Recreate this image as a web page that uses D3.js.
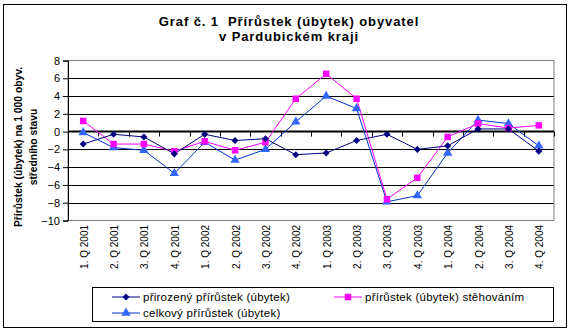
<!DOCTYPE html>
<html><head><meta charset="utf-8">
<script src="https://cdn.jsdelivr.net/npm/d3@7"></script>
<style>body{margin:0;background:#fff}svg{display:block}text{font-family:"Liberation Sans",Arial,sans-serif}</style>
</head><body><svg id="c" width="570" height="332"></svg>
<script>
const categories = ["1. Q 2001","2. Q 2001","3. Q 2001","4. Q 2001","1. Q 2002","2. Q 2002","3. Q 2002","4. Q 2002","1. Q 2003","2. Q 2003","3. Q 2003","4. Q 2003","1. Q 2004","2. Q 2004","3. Q 2004","4. Q 2004"];
const natural = [-1.4,-0.3,-0.6,-2.5,-0.3,-1.0,-0.8,-2.6,-2.4,-1.0,-0.3,-2.0,-1.6,0.3,0.3,-2.2];
const migration = [1.2,-1.4,-1.4,-2.2,-1.1,-2.1,-1.2,3.7,6.5,3.7,-7.6,-5.2,-0.6,0.9,0.4,0.7];
const total = [-0.1,-1.8,-2.1,-4.7,-1.2,-3.2,-2.0,1.1,4.0,2.6,-7.9,-7.2,-2.4,1.3,0.9,-1.6];
const yTicks = [8,6,4,2,0,-2,-4,-6,-8,-10];
const seriesNames = ["přirozený přírůstek (úbytek)","přírůstek (úbytek) stěhováním","celkový přírůstek (úbytek)"];
const titleLines = ["Graf č. 1  Přírůstek (úbytek) obyvatel","v Pardubickém kraji"];
const yTitleLines = ["Přírůstek (úbytek) na 1 000 obyv.","středního stavu"];

const svg = d3.select("#c");
const L=68,R=554,T=60.5,B=220.5;
svg.append("rect").attr("x",3.5).attr("y",4.5).attr("width",563).attr("height",323).attr("fill","#fff").attr("stroke","#000").attr("stroke-width",1);

const x = d3.scaleBand().domain(categories).range([L,R]).padding(0);
const y = d3.scaleLinear().domain([-10,8]).range([B,T]);

// title
svg.append("g").selectAll("text").data(titleLines).join("text")
  .attr("x",289).attr("y",(d,i)=>25.5+i*15.5).attr("text-anchor","middle")
  .style("white-space","pre").attr("letter-spacing",0.9)
  .attr("font-size",13).attr("font-weight","bold").text(d=>d);

// gridlines
svg.append("g").selectAll("line").data(yTicks.filter(v=>v!==0&&v!==-10&&v!==8)).join("line")
  .attr("x1",L).attr("x2",R).attr("y1",d=>Math.round(y(d))+0.5).attr("y2",d=>Math.round(y(d))+0.5)
  .attr("stroke","#000").attr("stroke-width",1);
svg.append("rect").attr("x",L).attr("y",T).attr("width",R-L).attr("height",B-T).attr("fill","none").attr("stroke","#808080");

// y axis
const ya = svg.append("g").attr("transform",`translate(${L},0)`)
  .call(d3.axisLeft(y).tickValues(yTicks).tickSize(5).tickPadding(3).tickFormat(d3.format("d")));
ya.select(".domain").attr("stroke","#000");
ya.selectAll(".tick line").attr("stroke","#000");
ya.selectAll("text").attr("font-size",11).attr("font-family","Liberation Sans, Arial, sans-serif").attr("fill","#000");

// x axis at zero
const xa = svg.append("g").attr("transform",`translate(0,${y(0)})`)
  .call(d3.axisBottom(x).tickSize(0).tickFormat(""));
xa.select(".domain").remove();
svg.append("line").attr("x1",L).attr("x2",R).attr("y1",y(0)).attr("y2",y(0)).attr("stroke","#000").attr("stroke-width",2);
const bounds = d3.range(categories.length+1).map(i=>L+i*x.bandwidth());
svg.append("g").selectAll("line").data(bounds).join("line")
  .attr("x1",d=>Math.round(d)+0.5).attr("x2",d=>Math.round(d)+0.5).attr("y1",y(0)).attr("y2",y(0)+5).attr("stroke","#000");

// x labels
svg.append("g").selectAll("text").data(categories).join("text")
  .attr("transform",d=>`translate(${x(d)+x.bandwidth()/2+1},225) rotate(-90)`)
  .attr("text-anchor","end").attr("dy","0.35em").attr("font-size",10).text(d=>d);

// y title
svg.append("g").selectAll("text").data(yTitleLines).join("text")
  .attr("transform",(d,i)=>`translate(${18+i*15},147) rotate(-90)`)
  .attr("text-anchor","middle").attr("dy","0.35em").attr("font-size",10.3).attr("font-weight","bold").text(d=>d);

const cx = d => x(d)+x.bandwidth()/2;
const series = [
  {name:seriesNames[0], vals:natural, line:"#000080", fill:"#000080", sym:d3.symbolDiamond2, size:32},
  {name:seriesNames[1], vals:migration, line:"#FF00FF", fill:"#FF00FF", sym:d3.symbolSquare, size:42},
  {name:seriesNames[2], vals:total, line:"#0033CC", fill:"#3366FF", sym:d3.symbolTriangle, size:38}
];
const lineGen = d3.line().x((d,i)=>cx(categories[i])).y(d=>y(d));
const order = [2,1,0];
order.forEach(k=>{
  const s=series[k];
  svg.append("path").datum(s.vals).attr("d",lineGen).attr("fill","none").attr("stroke",s.line).attr("stroke-width",1);
});
order.forEach(k=>{
  const s=series[k];
  svg.append("g").selectAll("path").data(s.vals).join("path")
    .attr("transform",(d,i)=>`translate(${cx(categories[i])},${y(d)})`)
    .attr("d",d3.symbol().type(s.sym).size(s.size)).attr("fill",s.fill);
});

// legend
svg.append("rect").attr("x",92.5).attr("y",287.5).attr("width",461).attr("height",34).attr("fill","#fff").attr("stroke","#000");
const legPos = [[112,297],[334,297],[112,313]];
series.forEach((s,i)=>{
  const [lx,ly]=legPos[i];
  const g=svg.append("g").attr("transform",`translate(${lx},${ly})`);
  g.append("line").attr("x1",0).attr("x2",28).attr("y1",0).attr("y2",0).attr("stroke",s.line);
  g.append("path").attr("transform","translate(14,0)").attr("d",d3.symbol().type(s.sym).size(s.size)).attr("fill",s.fill);
  g.append("text").attr("x",31).attr("dy","0.35em").attr("font-size",11.5).attr("letter-spacing",0.25).text(s.name);
});
</script></body></html>
